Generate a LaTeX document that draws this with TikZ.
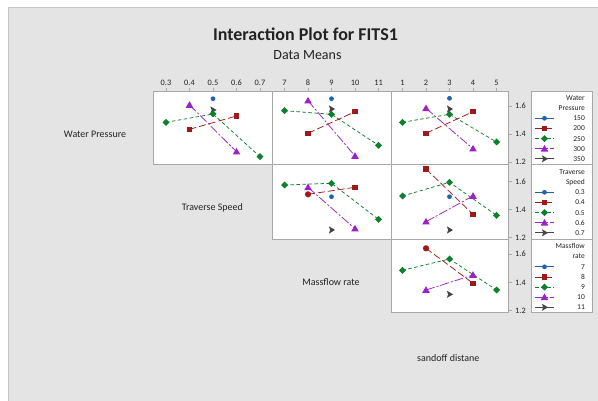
\documentclass[tikz,border=0pt]{standalone}
\usepackage{fontspec}
\setmainfont{Carlito}
\definecolor{bggray}{HTML}{E4E4E4}
\definecolor{edgegray}{HTML}{C4C4C4}
\definecolor{framegray}{HTML}{A8A8A8}
\definecolor{cblue}{HTML}{1F64B0}
\definecolor{cred}{HTML}{9E1A1A}
\definecolor{cgreen}{HTML}{0E7F2C}
\definecolor{cpurple}{HTML}{9A22C8}
\definecolor{cgray}{HTML}{454545}
\definecolor{txt}{HTML}{222222}
\tikzset{
  panelbox/.style={fill=white, draw=framegray, line width=0.9pt},
  legbox/.style={fill=white, draw=framegray, line width=0.9pt},
  ticklab/.style={font=\fontsize{8.3}{9}\selectfont, text=txt, inner sep=0pt},
  leglab/.style={font=\fontsize{7.5}{8}\selectfont, text=txt, inner sep=0pt, anchor=east},
  rowlab/.style={font=\fontsize{10}{11}\selectfont, text=txt, inner sep=0pt},
  tickmark/.style={draw=framegray, line width=0.8pt},
  lblue/.style={draw=cblue, line width=0.75pt},
  lred/.style={draw=cred, line width=0.75pt, dash pattern=on 7pt off 3pt},
  lgreen/.style={draw=cgreen, line width=0.75pt, dash pattern=on 3.5pt off 2.5pt},
  lpurple/.style={draw=cpurple, line width=0.75pt, dash pattern=on 9pt off 2pt on 2pt off 2pt},
  lgray/.style={draw=cgray, line width=0.75pt},
  mblue/.pic={\fill[cblue] (0,0) circle[radius=2.4pt];},
  mredc/.pic={\fill[cred] (0,0) circle[radius=3.1pt];},
  mred/.pic={\fill[cred] (-2.7,-2.7) rectangle (2.7,2.7);},
  mgreen/.pic={\fill[cgreen] (0,-3.5) -- (3.5,0) -- (0,3.5) -- (-3.5,0) -- cycle;},
  mpurple/.pic={\fill[cpurple] (0,-3.8) -- (3.8,2.8) -- (-3.8,2.8) -- cycle;},
  mgray/.pic={\fill[cgray] (-2.6,-3.6) -- (3.6,0) -- (-2.6,3.6) -- (-1.4,0) -- cycle;}
}
\begin{document}
\begin{tikzpicture}[x=1pt,y=-1pt]
\useasboundingbox (0,0) rectangle (598,401);
\fill[white] (0,0) rectangle (598,401);
\fill[bggray] (8,8) rectangle (598,401);
\draw[edgegray, line width=1pt] (8,401) -- (8,8) -- (598,8);

% titles
\node[font=\fontsize{18}{20}\selectfont\bfseries, text=txt, inner sep=0pt] (title) at (305.5,34) {Interaction Plot for FITS1};
\node[font=\fontsize{14}{16}\selectfont, text=txt, inner sep=0pt] (subtitle) at (307.5,55) {Data Means};

% panels
\path[panelbox] (153,91) rectangle (272,164);
\path[panelbox] (272,91) rectangle (391,164);
\path[panelbox] (391,91) rectangle (508.5,164);
\path[panelbox] (272,164) rectangle (391,239);
\path[panelbox] (391,164) rectangle (508.5,239);
\path[panelbox] (391,239) rectangle (508.5,312);

% top axes
\foreach \xx/\lab in {166/0.3,189.5/0.4,213/0.5,236.5/0.6,260/0.7,
                      284.5/7,308/8,331.5/9,355/10,378.5/11,
                      402.5/1,426/2,449.5/3,473/4,496.5/5}{
  \draw[tickmark] (\xx,91) -- (\xx,88);
  \node[ticklab] at (\xx,83) {\lab};
}
% right axes
\foreach \yy/\lab in {106/1.6,134/1.4,162.3/1.2,
                      181.7/1.6,209.8/1.4,237.5/1.2,
                      254/1.6,282.5/1.4,310.7/1.2}{
  \draw[tickmark] (508.5,\yy) -- (512,\yy);
  \node[ticklab] at (520.5,\yy) {\lab};
}

% row labels
\node[rowlab] (wp) at (95,134.3) {Water Pressure};
\node[rowlab] (ts) at (212.3,208.3) {Traverse Speed};
\node[rowlab] (mf) at (331,282.3) {Massflow rate};
\node[rowlab] (sd) at (448.3,357.7) {sandoff distane};

% ---------- lines ----------
% r1c1
\draw[lpurple] (189.5,105) -- (236.5,151.7);
\draw[lgreen] (166,122.3) -- (213,114) -- (260,156.7);
\draw[lred] (189.5,129.3) -- (236.5,116);
% r1c2
\draw[lpurple] (308,100.7) -- (355,156);
\draw[lgreen] (284.5,110.7) -- (331.5,114.3) -- (378.5,145.3);
\draw[lred] (308,133.3) -- (355,111.7);
% r1c3
\draw[lpurple] (426,108.3) -- (473,148.7);
\draw[lgreen] (402.5,122.3) -- (449.5,114.3) -- (496.5,142);
\draw[lred] (426,133.3) -- (473,111.7);
% r2c2
\draw[lgreen] (284.5,185) -- (331.5,183.3) -- (378.5,219.3);
\draw[lpurple] (308,187.3) -- (355,228.7);
\draw[lred] (308,194.3) -- (355,187.3);
% r2c3
\draw[lred] (426,169) -- (473,214.3);
\draw[lgreen] (402.5,196) -- (449.5,182.3) -- (496.5,215.3);
\draw[lpurple] (426,221.7) -- (473,196);
% r3c3
\draw[lred] (426,248.3) -- (473,283.3);
\draw[lgreen] (402.5,270.3) -- (449.5,259) -- (496.5,290);
\draw[lpurple] (426,290) -- (473,275);

% ---------- markers ----------
% r1c1
\pic at (213,98.7) {mblue};
\pic at (213,110) {mgray};
\pic at (189.5,105) {mpurple}; \pic at (236.5,151.7) {mpurple};
\pic at (166,122.3) {mgreen}; \pic at (213,114) {mgreen}; \pic at (260,156.7) {mgreen};
\pic at (189.5,129.3) {mred}; \pic at (236.5,116) {mred};
% r1c2
\pic at (331.5,98.7) {mblue};
\pic at (331.5,109) {mgray};
\pic at (308,100.7) {mpurple}; \pic at (355,156) {mpurple};
\pic at (284.5,110.7) {mgreen}; \pic at (331.5,114.3) {mgreen}; \pic at (378.5,145.3) {mgreen};
\pic at (308,133.3) {mred}; \pic at (355,111.7) {mred};
% r1c3
\pic at (449.5,98.3) {mblue};
\pic at (449.5,109) {mgray};
\pic at (426,108.3) {mpurple}; \pic at (473,148.7) {mpurple};
\pic at (402.5,122.3) {mgreen}; \pic at (449.5,114.3) {mgreen}; \pic at (496.5,142) {mgreen};
\pic at (426,133.3) {mred}; \pic at (473,111.7) {mred};
% r2c2
\pic at (284.5,185) {mgreen}; \pic at (331.5,183.3) {mgreen}; \pic at (378.5,219.3) {mgreen};
\pic at (308,187.3) {mpurple}; \pic at (355,228.7) {mpurple};
\pic at (308,194.3) {mredc}; \pic at (355,187.3) {mred};
\pic at (331.5,196.7) {mblue};
\pic at (331.5,230) {mgray};
% r2c3
\pic at (426,169) {mred}; \pic at (473,214.3) {mred};
\pic at (402.5,196) {mgreen}; \pic at (449.5,182.3) {mgreen}; \pic at (496.5,215.3) {mgreen};
\pic at (449.5,196.7) {mblue};
\pic at (426,221.7) {mpurple}; \pic at (473,196) {mpurple};
\pic at (449.5,230) {mgray};
% r3c3
\pic at (426,248.3) {mredc}; \pic at (473,283.3) {mred};
\pic at (402.5,270.3) {mgreen}; \pic at (449.5,259) {mgreen}; \pic at (496.5,290) {mgreen};
\pic at (426,290) {mpurple}; \pic at (473,275) {mpurple};
\pic at (449.5,294.3) {mgray};

% ---------- legends ----------
\path[legbox] (531.5,91) rectangle (592,164);
\path[legbox] (531.5,164) rectangle (592,239);
\path[legbox] (531.5,239) rectangle (592,312);

\node[leglab] at (585,97.7) {Water};
\node[leglab] at (585,108.3) {Pressure};
\node[leglab] at (585,171.7) {Traverse};
\node[leglab] at (585,182.3) {Speed};
\node[leglab] at (585,246) {Massflow};
\node[leglab] at (585,256.5) {rate};

\foreach \yy/\la/\lb/\lc in {118.3/150/0.3/7, 128.4/200/0.4/8, 138.6/250/0.5/9, 148.8/300/0.6/10, 158.8/350/0.7/11}{
  \node[leglab] at (585,\yy) {\la};
  \node[leglab] at (585,\yy+74) {\lb};
  \node[leglab] at (585,\yy+148.5) {\lc};
}
\foreach \dy in {0,74,148.5}{
  \draw[lblue] (535,118.3+\dy) -- (554,118.3+\dy); \pic at (544.5,118.3+\dy) {mblue};
  \draw[lred] (535,128.4+\dy) -- (554,128.4+\dy); \pic at (544.5,128.4+\dy) {mred};
  \draw[lgreen] (535,138.6+\dy) -- (554,138.6+\dy); \pic at (544.5,138.6+\dy) {mgreen};
  \draw[lpurple] (535,148.8+\dy) -- (554,148.8+\dy); \pic at (544.5,148.8+\dy) {mpurple};
  \draw[lgray] (535,158.8+\dy) -- (554,158.8+\dy); \pic at (544.5,158.8+\dy) {mgray};
}
\end{tikzpicture}
\end{document}
